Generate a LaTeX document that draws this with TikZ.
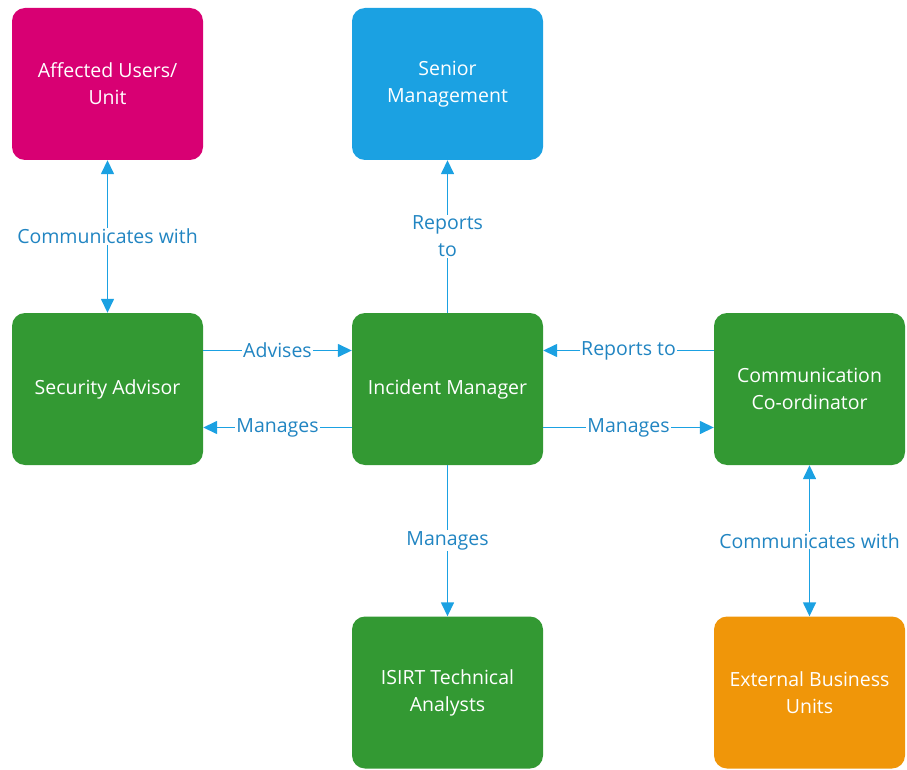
\documentclass[tikz,border=0pt]{standalone}
\usepackage{fontspec}
\setmainfont{Open Sans}
\usepackage{xcolor}
\usetikzlibrary{arrows.meta}
\definecolor{magentabox}{HTML}{D80073}
\definecolor{bluebox}{HTML}{1BA1E2}
\definecolor{greenbox}{HTML}{339933}
\definecolor{orangebox}{HTML}{F09609}
\definecolor{linkblue}{HTML}{1BA1E2}
\definecolor{labelblue}{HTML}{2185C2}

\begin{document}
\begin{tikzpicture}[x=1pt,y=-1pt,
    role/.style={rounded corners=13pt, minimum width=191pt, minimum height=152pt,
        text=white, align=center, font=\fontsize{19.5}{27}\selectfont, inner sep=0pt},
    link/.style={draw=linkblue, line width=1.5pt, -{Triangle[length=14pt,width=13pt]}},
    both/.style={link, {Triangle[length=14pt,width=13pt]}-{Triangle[length=14pt,width=13pt]}},
    lbl/.style={fill=white, text=labelblue, inner sep=1pt, align=center,
        font=\fontsize{19.5}{27}\selectfont}]
        \useasboundingbox (0,0) rectangle (907,770);
        \def\off{38.5pt}
        % top row
        \node[role, fill=magentabox] (users) at (107.5,84) {Affected Users/\\Unit};
        \node[role, fill=bluebox] (mgmt) at (447.5,84) {Senior\\Management};
        % middle row
        \node[role, fill=greenbox] (advisor) at (107.5,389) {Security Advisor};
        \node[role, fill=greenbox] (manager) at (447.5,389) {Incident Manager};
        \node[role, fill=greenbox] (comms) at (809.5,389) {Communication\\Co-ordinator};
        % bottom row
        \node[role, fill=greenbox] (analysts) at (447.5,692.5) {ISIRT Technical\\Analysts};
        \node[role, fill=orangebox] (external) at (809.5,692.5) {External Business\\Units};
        % connectors
        \draw[both] (users) -- node[lbl]{Communicates with} (advisor);
        \draw[link] (manager) -- node[lbl]{Reports\\to} (mgmt);
        \draw[link] ([yshift=\off]advisor.east) -- node[lbl]{Advises} ([yshift=\off]manager.west);
        \draw[link] ([yshift=-\off]manager.west) -- node[lbl]{Manages} ([yshift=-\off]advisor.east);
        \draw[link] ([yshift=\off]comms.west) -- node[lbl]{Reports to} ([yshift=\off]manager.east);
        \draw[link] ([yshift=-\off]manager.east) -- node[lbl]{Manages} ([yshift=-\off]comms.west);
        \draw[link] (manager) -- node[lbl]{Manages} (analysts);
        \draw[both] (comms) -- node[lbl]{Communicates with} (external);
    \end{tikzpicture}
\end{document}
